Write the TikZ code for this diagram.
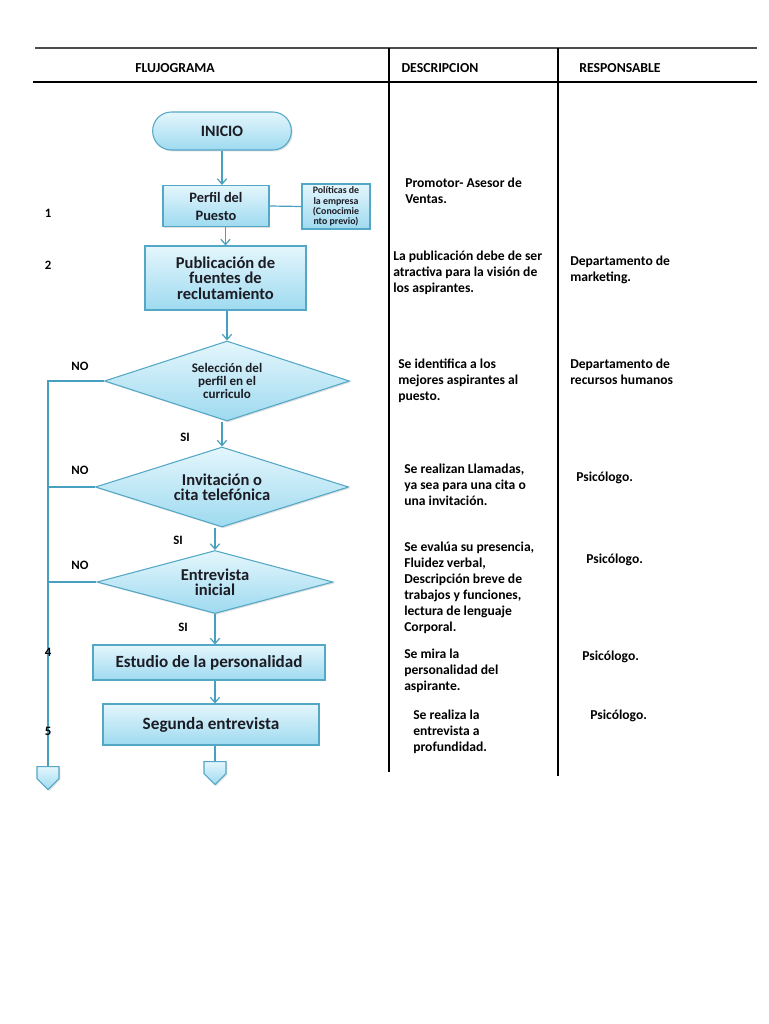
\documentclass[tikz,border=0pt]{standalone}
\usepackage{fontspec}
\setmainfont{Carlito}
\usetikzlibrary{arrows.meta,shapes.geometric,shapes.symbols,shadows}

\definecolor{boxline}{RGB}{84,168,198}
\definecolor{boxtop}{RGB}{228,246,252}
\definecolor{boxbot}{RGB}{158,218,240}
\definecolor{arrline}{RGB}{72,160,192}
\definecolor{nodetext}{RGB}{28,28,36}

\tikzset{
    proc/.style={draw=boxline, line width=0.8pt, top color=boxtop, bottom color=boxbot,
        text=nodetext, align=center, inner sep=0pt,
        drop shadow={opacity=0.25, shadow xshift=1pt, shadow yshift=-1pt}},
    term/.style={proc, rounded corners=14pt},
    decision/.style={proc, diamond, aspect=3},
    offpage/.style={proc, signal, signal to=south, signal from=nowhere,
        minimum width=16.5pt, minimum height=9pt, anchor=north},
    arr/.style={draw=arrline, line width=0.9pt, -{Straight Barb[length=4pt,width=7pt]}},
    link/.style={draw=arrline, line width=0.9pt},
    desc/.style={anchor=north west, align=left, inner sep=0pt,
        font=\fontsize{10.2}{12}\selectfont\bfseries},
    tag/.style={inner sep=0pt, font=\fontsize{9.6}{10}\selectfont\bfseries},
    head/.style={inner sep=0pt, font=\fontsize{10.3}{11}\selectfont\bfseries}
}

\begin{document}
\begin{tikzpicture}[x=0.75pt,y=-0.75pt]
        \path[use as bounding box, fill=white] (0,0) rectangle (768,1024);

        % table
        \draw[line width=1.4pt, black!70] (35,48) -- (757,48);
        \draw[line width=2.2pt] (33,82) -- (757,82);
        \draw[line width=2.2pt] (389,48) -- (389,772);
        \draw[line width=2.2pt] (558,48) -- (558,776);
        \node[head] (hflujo) at (175,68) {FLUJOGRAMA};
        \node[head] (hdesc) at (440,68) {DESCRIPCION};
        \node[head] (hresp) at (620,68) {RESPONSABLE};

        % flujograma
        \node[term, minimum width=104pt, minimum height=28.5pt,
            font=\fontsize{11.9}{12}\selectfont\bfseries] (inicio) at (222,131) {INICIO};
        \node[proc, minimum width=79.5pt, minimum height=30.75pt,
            font=\fontsize{10.8}{13.5}\selectfont\bfseries] (perfil) at (216,206) {Perfil del\\Puesto};
        \node[proc, minimum width=51pt, minimum height=33.75pt,
            font=\fontsize{7.4}{7.6}\selectfont\bfseries] (polit) at (336,206.5)
            {Políticas de\\la empresa\\(Conocimie\\nto previo)};
        \node[proc, minimum width=120.75pt, minimum height=48pt,
            font=\fontsize{12.4}{11.6}\selectfont\bfseries] (publ) at (225.5,278)
            {Publicación de\\fuentes de\\reclutamiento};
        \node[decision, minimum width=183.75pt, minimum height=60pt,
            font=\fontsize{9.8}{9.6}\selectfont\bfseries] (selec) at (227,381)
            {Selección del\\perfil en el\\curriculo};
        \node[decision, minimum width=190pt, minimum height=60pt,
            font=\fontsize{12.4}{11.6}\selectfont\bfseries] (invit) at (222,487)
            {Invitación o\\cita telefónica};
        \node[decision, minimum width=177pt, minimum height=47.25pt,
            font=\fontsize{12.4}{11.6}\selectfont\bfseries] (entrev) at (215,582)
            {Entrevista\\inicial};
        \node[proc, minimum width=174pt, minimum height=26.25pt,
            font=\fontsize{12.8}{13}\selectfont\bfseries] (estudio) at (209,662.5)
            {Estudio de la personalidad};
        \node[proc, minimum width=162pt, minimum height=30.75pt,
            font=\fontsize{12.9}{13}\selectfont\bfseries] (segunda) at (211,724.5)
            {Segunda entrevista};
        \node[offpage] (offr) at (215,761) {};
        \node[offpage] (offl) at (48,766) {};

        \draw[arr] (inicio.south) -- (inicio.south |- perfil.north);
        \draw[link] (perfil.east) -- (polit.west);
        \draw[arr] (publ.north |- perfil.south) -- (publ.north);
        \draw[arr] (selec.north |- publ.south) -- (selec.north);
        \draw[arr] (invit.north |- selec.south) -- (invit.north);
        \draw[arr] (entrev.north |- invit.south) -- (entrev.north);
        \draw[arr] (entrev.south) -- (entrev.south |- estudio.north);
        \draw[arr] (entrev.south |- estudio.south) -- (entrev.south |- segunda.north);
        \draw[link] (offr.north |- segunda.south) -- (offr.north);
        \draw[link] (selec.west) -- (selec.west -| offl.north) -- (offl.north);
        \draw[link] (invit.west) -- (invit.west -| offl.north);
        \draw[link] (entrev.west) -- (entrev.west -| offl.north);

        \node[tag] (no1) at (80,366) {NO};
        \node[tag] (no2) at (80,470) {NO};
        \node[tag] (no3) at (80,565) {NO};
        \node[tag] (si1) at (185,437) {SI};
        \node[tag] (si2) at (178,540) {SI};
        \node[tag] (si3) at (183,627) {SI};
        \node[tag] (n1) at (48,213) {1};
        \node[tag] (n2) at (48,265) {2};
        \node[tag] (n4) at (48,652) {4};
        \node[tag] (n5) at (48,731) {5};

        % descripcion
        \node[desc] (desc1) at (405,178) {Promotor- Asesor de\\Ventas.};
        \node[desc] (desc2) at (393,251) {La publicación debe de ser\\atractiva para la visión de\\los aspirantes.};
        \node[desc] (desc3) at (398,359) {Se identifica a los\\mejores aspirantes al\\puesto.};
        \node[desc] (desc4) at (404,464) {Se realizan Llamadas,\\ya sea para una cita o\\una invitación.};
        \node[desc] (desc5) at (404,542) {Se evalúa su presencia,\\Fluidez verbal,\\Descripción breve de\\trabajos y funciones,\\lectura de lenguaje\\Corporal.};
        \node[desc] (desc6) at (404,649) {Se mira la\\personalidad del\\aspirante.};
        \node[desc] (desc7) at (413,710) {Se realiza la\\entrevista a\\profundidad.};

        % responsable
        \node[desc] (resp2) at (570,256) {Departamento de\\marketing.};
        \node[desc] (resp3) at (570,359) {Departamento de\\recursos humanos};
        \node[desc] (resp4) at (576,472) {Psicólogo.};
        \node[desc] (resp5) at (586,554) {Psicólogo.};
        \node[desc] (resp6) at (582,651) {Psicólogo.};
        \node[desc] (resp7) at (590,710) {Psicólogo.};
\end{tikzpicture}
\end{document}
